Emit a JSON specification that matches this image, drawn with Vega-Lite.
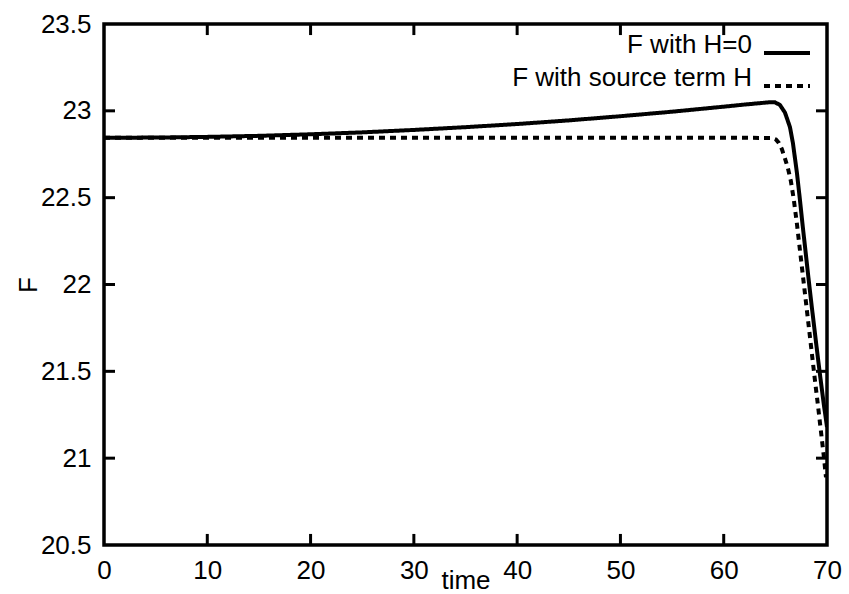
{
  "$schema": "https://vega.github.io/schema/vega-lite/v6.json",
  "width": 723,
  "height": 521,
  "autosize": "none",
  "padding": {"left": 104, "top": 24, "right": 22, "bottom": 49},
  "background": "white",
  "config": {
    "view": {"stroke": "black", "strokeWidth": 3.5},
    "font": "Liberation Sans",
    "axis": {
      "domain": false,
      "grid": false,
      "ticks": false,
      "tickSize": 0,
      "labelFont": "Liberation Sans",
      "labelFontSize": 26,
      "labelColor": "black",
      "titleFont": "Liberation Sans",
      "titleFontSize": 26,
      "titleFontWeight": "normal",
      "titleColor": "black"
    }
  },
  "datasets": {
    "xticks": [{"v": 10}, {"v": 20}, {"v": 30}, {"v": 40}, {"v": 50}, {"v": 60}],
    "yticks": [{"v": 21}, {"v": 21.5}, {"v": 22}, {"v": 22.5}, {"v": 23}],
    "curves": [
      {"t": 0, "F": 22.845, "series": "F with H=0"},
      {"t": 5, "F": 22.846, "series": "F with H=0"},
      {"t": 10, "F": 22.850, "series": "F with H=0"},
      {"t": 15, "F": 22.856, "series": "F with H=0"},
      {"t": 20, "F": 22.865, "series": "F with H=0"},
      {"t": 25, "F": 22.876, "series": "F with H=0"},
      {"t": 30, "F": 22.890, "series": "F with H=0"},
      {"t": 35, "F": 22.906, "series": "F with H=0"},
      {"t": 40, "F": 22.924, "series": "F with H=0"},
      {"t": 45, "F": 22.945, "series": "F with H=0"},
      {"t": 50, "F": 22.969, "series": "F with H=0"},
      {"t": 55, "F": 22.995, "series": "F with H=0"},
      {"t": 60, "F": 23.024, "series": "F with H=0"},
      {"t": 62, "F": 23.036, "series": "F with H=0"},
      {"t": 64, "F": 23.047, "series": "F with H=0"},
      {"t": 64.6, "F": 23.05, "series": "F with H=0"},
      {"t": 64.96, "F": 23.049, "series": "F with H=0"},
      {"t": 65.44, "F": 23.034, "series": "F with H=0"},
      {"t": 65.93, "F": 22.99, "series": "F with H=0"},
      {"t": 66.41, "F": 22.907, "series": "F with H=0"},
      {"t": 66.70, "F": 22.815, "series": "F with H=0"},
      {"t": 67.09, "F": 22.642, "series": "F with H=0"},
      {"t": 67.38, "F": 22.487, "series": "F with H=0"},
      {"t": 67.67, "F": 22.325, "series": "F with H=0"},
      {"t": 67.96, "F": 22.170, "series": "F with H=0"},
      {"t": 68.25, "F": 22.014, "series": "F with H=0"},
      {"t": 68.54, "F": 21.865, "series": "F with H=0"},
      {"t": 68.83, "F": 21.721, "series": "F with H=0"},
      {"t": 69.12, "F": 21.577, "series": "F with H=0"},
      {"t": 69.41, "F": 21.439, "series": "F with H=0"},
      {"t": 69.70, "F": 21.306, "series": "F with H=0"},
      {"t": 70, "F": 21.18, "series": "F with H=0"},
      {"t": 0, "F": 22.845, "series": "F with source term H"},
      {"t": 20, "F": 22.845, "series": "F with source term H"},
      {"t": 40, "F": 22.845, "series": "F with source term H"},
      {"t": 60, "F": 22.845, "series": "F with source term H"},
      {"t": 64.67, "F": 22.844, "series": "F with source term H"},
      {"t": 65.05, "F": 22.835, "series": "F with source term H"},
      {"t": 65.34, "F": 22.815, "series": "F with source term H"},
      {"t": 65.63, "F": 22.780, "series": "F with source term H"},
      {"t": 65.92, "F": 22.728, "series": "F with source term H"},
      {"t": 66.21, "F": 22.671, "series": "F with source term H"},
      {"t": 66.50, "F": 22.596, "series": "F with source term H"},
      {"t": 66.79, "F": 22.487, "series": "F with source term H"},
      {"t": 67.09, "F": 22.348, "series": "F with source term H"},
      {"t": 67.38, "F": 22.198, "series": "F with source term H"},
      {"t": 67.67, "F": 22.049, "series": "F with source term H"},
      {"t": 67.96, "F": 21.899, "series": "F with source term H"},
      {"t": 68.25, "F": 21.750, "series": "F with source term H"},
      {"t": 68.54, "F": 21.600, "series": "F with source term H"},
      {"t": 68.83, "F": 21.450, "series": "F with source term H"},
      {"t": 69.12, "F": 21.306, "series": "F with source term H"},
      {"t": 69.41, "F": 21.156, "series": "F with source term H"},
      {"t": 69.70, "F": 21.007, "series": "F with source term H"},
      {"t": 69.9, "F": 20.89, "series": "F with source term H"}
    ]
  },
  "layer": [
    {
      "data": {"name": "curves"},
      "mark": {"type": "line", "color": "black", "strokeWidth": 4, "clip": true},
      "encoding": {
        "x": {
          "field": "t", "type": "quantitative",
          "scale": {"domain": [0, 70], "nice": false, "zero": false},
          "axis": {"orient": "bottom", "values": [0, 10, 20, 30, 40, 50, 60, 70], "title": "time",
                   "labelPadding": 12, "labelFlush": false, "labelOverlap": false,
                   "titleY": 43, "titleBaseline": "alphabetic"}
        },
        "y": {
          "field": "F", "type": "quantitative",
          "scale": {"domain": [20.5, 23.5], "nice": false, "zero": false},
          "axis": {"orient": "left", "values": [20.5, 21, 21.5, 22, 22.5, 23, 23.5], "format": "~g", "title": "F",
                   "labelPadding": 13, "labelFlush": false, "labelOverlap": false,
                   "titleX": -68, "titleBaseline": "alphabetic", "titleAngle": 270}
        },
        "strokeDash": {
          "field": "series", "type": "nominal",
          "scale": {"domain": ["F with H=0", "F with source term H"], "range": [[1, 0], [6, 5]]},
          "legend": {
            "title": null, "orient": "none", "legendX": 658, "legendY": 4,
            "padding": 0, "rowPadding": 0,
            "symbolType": "stroke", "symbolSize": 2116, "symbolStrokeWidth": 4,
            "symbolStrokeColor": "black",
            "labelAlign": "right", "labelOffset": -60, "labelBaseline": "alphabetic",
            "labelFont": "Liberation Sans", "labelFontSize": 26, "labelColor": "black",
            "labelLimit": 400
          }
        }
      }
    },
    {
      "data": {"name": "xticks"},
      "mark": {"type": "tick", "color": "black", "opacity": 1, "orient": "vertical", "thickness": 3, "size": 11},
      "encoding": {"x": {"field": "v", "type": "quantitative"}, "y": {"datum": 20.532}}
    },
    {
      "data": {"name": "xticks"},
      "mark": {"type": "tick", "color": "black", "opacity": 1, "orient": "vertical", "thickness": 3, "size": 11},
      "encoding": {"x": {"field": "v", "type": "quantitative"}, "y": {"datum": 23.468}}
    },
    {
      "data": {"name": "yticks"},
      "mark": {"type": "tick", "color": "black", "opacity": 1, "orient": "horizontal", "thickness": 3, "size": 11},
      "encoding": {"y": {"field": "v", "type": "quantitative"}, "x": {"datum": 0.532}}
    },
    {
      "data": {"name": "yticks"},
      "mark": {"type": "tick", "color": "black", "opacity": 1, "orient": "horizontal", "thickness": 3, "size": 11},
      "encoding": {"y": {"field": "v", "type": "quantitative"}, "x": {"datum": 69.468}}
    }
  ]
}
